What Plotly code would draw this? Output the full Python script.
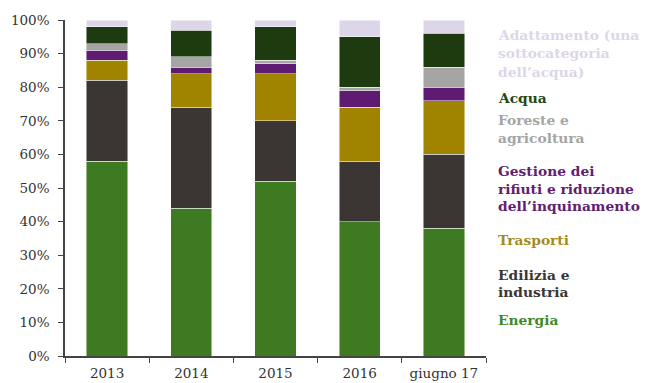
import plotly.graph_objects as go

categories = ["2013", "2014", "2015", "2016", "giugno 17"]

energia = [58, 44, 52, 40, 38]
edilizia = [24, 30, 18, 18, 22]
trasporti = [6, 10, 14, 16, 16]
gestione = [3, 2, 3, 5, 4]
foreste = [2, 3, 1, 1, 6]
acqua = [5, 8, 10, 15, 10]
adattamento = [2, 3, 2, 5, 4]

series_names = ["Energia", "Edilizia e industria", "Trasporti",
                "Gestione dei rifiuti e riduzione dell\u2019inquinamento",
                "Foreste e agricoltura", "Acqua",
                "Adattamento (una sottocategoria dell\u2019acqua)"]
series_values = [energia, edilizia, trasporti, gestione, foreste, acqua, adattamento]
bar_colors = ["#3d7a22", "#3b3633", "#a08400", "#5f1a72", "#a5a5a5", "#1e3b0f", "#ddd6e8"]
text_colors = ["#3f8a2a", "#3b3633", "#a48c1c", "#62206f", "#a5a5a5", "#1e4a12", "#ddd6e8"]
legend_lines = [
    ["Energia"],
    ["Edilizia e", "industria"],
    ["Trasporti"],
    ["Gestione dei", "rifiuti e riduzione", "dell\u2019inquinamento"],
    ["Foreste e", "agricoltura"],
    ["Acqua"],
    ["Adattamento (una", "sottocategoria", "dell\u2019acqua)"],
]

# layout geometry (pixels, in window coords; page body has an 8px margin)
OFF = 8
W, H = 652 - OFF, 383 - OFF
plot_left, plot_right, plot_top, plot_bottom = 65, 486, 20, 356
L = plot_left - OFF
R = W - (plot_right - OFF)
T = plot_top - OFF
B = H - (plot_bottom - OFF)
legend_px_y = [
    [320],
    [275, 292],
    [240],
    [171, 188.5, 206],
    [120, 138],
    [98],
    [35, 53.5, 72],
]
legend_px_x = 497

fig = go.Figure()
for name, vals, col in zip(series_names, series_values, bar_colors):
    fig.add_trace(go.Bar(
        x=categories, y=vals, name=name,
        marker=dict(color=col, line=dict(color="rgba(255,255,255,0.6)", width=0.8)),
        showlegend=False,
    ))

plot_h = plot_bottom - plot_top
plot_w = plot_right - plot_left
for lines, ys, tcol in zip(legend_lines, legend_px_y, text_colors):
    for txt, py in zip(lines, ys):
        fig.add_annotation(
            xref="paper", yref="paper",
            x=(legend_px_x - plot_left) / plot_w, y=(plot_bottom - py) / plot_h,
            xanchor="left", yanchor="middle", align="left", showarrow=False,
            borderpad=0,
            text="<b>" + txt + "</b>",
            font=dict(family="DejaVu Serif", size=13.8, color=tcol),
        )

fig.update_layout(
    barmode="stack",
    bargap=0.51,
    width=W, height=H,
    margin=dict(l=L, r=R, t=T, b=B, pad=0),
    plot_bgcolor="white", paper_bgcolor="white",
    font=dict(family="DejaVu Serif", size=13.5, color="#333333"),
)
fig.update_xaxes(
    type="category", tickson="boundaries", ticks="outside", ticklen=5,
    tickcolor="#444444", showline=True, linecolor="#444444", linewidth=1.5,
    showgrid=False, automargin=False, ticklabelstandoff=4,
    tickfont=dict(size=13.5, color="#333333"),
)
fig.update_yaxes(
    range=[0, 100], tickvals=list(range(0, 101, 10)),
    ticktext=[f"{v}%" for v in range(0, 101, 10)],
    ticks="outside", ticklen=5, tickcolor="#444444",
    showline=True, linecolor="#444444", linewidth=1.5,
    showgrid=False, zeroline=False, ticklabelstandoff=6, automargin=False,
    tickfont=dict(size=13.5, color="#333333"),
)

fig.write_html("out.html")
